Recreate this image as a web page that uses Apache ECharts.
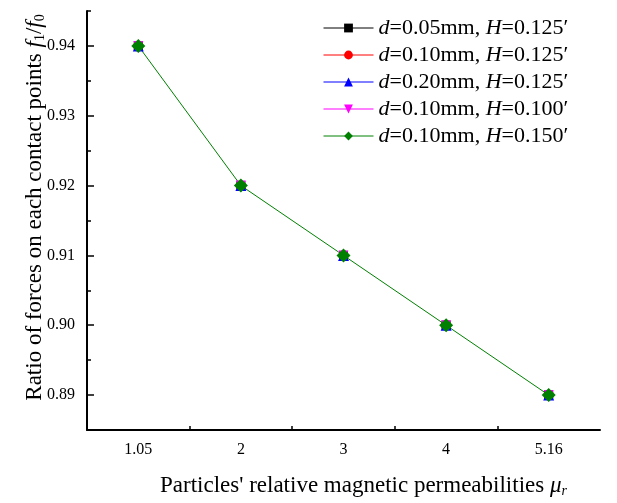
<!DOCTYPE html>
<html><head><meta charset="utf-8">
<script src="https://cdn.jsdelivr.net/npm/echarts@6/dist/echarts.min.js"></script>
<style>html,body{margin:0;padding:0;background:#fff}#c{width:617px;height:503px}</style>
</head><body><div id="c"></div>
<script>
const categories = ['1.05', '2', '3', '4', '5.16'];
const seriesNames = ['d=0.05mm, H=0.125′', 'd=0.10mm, H=0.125′', 'd=0.20mm, H=0.125′', 'd=0.10mm, H=0.100′', 'd=0.10mm, H=0.150′'];
const s1 = [0.94, 0.92, 0.91, 0.90, 0.89];
const s2 = [0.94, 0.92, 0.91, 0.90, 0.89];
const s3 = [0.94, 0.92, 0.91, 0.90, 0.89];
const s4 = [0.94, 0.92, 0.91, 0.90, 0.89];
const s5 = [0.94, 0.92, 0.91, 0.90, 0.89];
const yMajor = [0.89, 0.90, 0.91, 0.92, 0.93, 0.94];
const yMinor = [0.885, 0.895, 0.905, 0.915, 0.925, 0.935, 0.945];
const xMinor = [0.5, 1.5, 2.5, 3.5];

const F = '"Liberation Serif", "Times New Roman", serif';
const colors = ['#000000', '#ff0000', '#0000ff', '#ff00ff', '#008000'];
const symbols = ['rect', 'circle', 'triangle', 'path://M0,0 L10,0 L5,10 Z', 'diamond'];
const sizes = [9, 10, 11, 10, 14];
const datas = [s1, s2, s3, s4, s5];

const chart = echarts.init(document.getElementById('c'), null, {renderer: 'canvas'});
function mkRich(fs) {
  return {
    i: {fontFamily: F, fontStyle: 'italic', fontSize: fs, color: '#000'},
    n: {fontFamily: F, fontSize: fs, color: '#000'},
    sub: {fontFamily: F, fontStyle: 'italic', fontSize: Math.round(fs * 0.62), color: '#000', verticalAlign: 'bottom', padding: [Math.round(fs * 0.45), 0, 0, 0]},
    subn: {fontFamily: F, fontSize: Math.round(fs * 0.62), color: '#000', verticalAlign: 'bottom', padding: [Math.round(fs * 0.45), 0, 0, 0]}
  };
}
const axisW = 2;
chart.setOption({
  animation: false,
  backgroundColor: '#fff',
  grid: {left: 87, right: 17, top: 11, bottom: 70, containLabel: false},
  legend: {
    orient: 'vertical', left: 318, top: 12, itemWidth: 50, itemHeight: 11, itemGap: 5,
    data: seriesNames.map((n, k) => ({name: n, lineStyle: {color: colors[k], opacity: 1, width: 1}})),
    textStyle: {fontFamily: F, fontSize: 22, color: '#000', rich: mkRich(22)},
    formatter: function (name) {
      const m = name.match(/^d(=.*?, )H(=.*)$/);
      return '{i|d}{n|' + m[1] + '}{i|H}{n|' + m[2] + '}';
    }
  },
  xAxis: [{
    type: 'category', data: categories, boundaryGap: true,
    axisLine: {lineStyle: {color: '#000', width: axisW}},
    axisTick: {alignWithLabel: true, inside: true, length: 7, lineStyle: {color: '#000', width: 1.5}},
    axisLabel: {fontFamily: F, fontSize: 16, color: '#000', margin: 12},
    name: '{n|Particles\' relative magnetic permeabilities }{i|μ}{sub|r}',
    nameLocation: 'middle', nameGap: 44, nameMoveOverlap: false,
    nameTextStyle: {fontFamily: F, fontSize: 23, color: '#000', rich: mkRich(23), padding: [0, 0, 0, 40]}
  }, {
    type: 'value', min: -0.5, max: 4.5, position: 'bottom',
    axisLine: {show: false, onZero: false}, splitLine: {show: false},
    axisLabel: {show: false},
    axisTick: {show: true, inside: true, length: 4, customValues: xMinor, lineStyle: {color: '#000', width: 1.5}}
  }],
  yAxis: [{
    type: 'value', min: 0.885, max: 0.945,
    axisLine: {show: true, onZero: false, lineStyle: {color: '#000', width: axisW}},
    splitLine: {show: false},
    axisTick: {show: true, inside: true, length: 7, customValues: yMajor, lineStyle: {color: '#000', width: 1.5}},
    axisLabel: {fontFamily: F, fontSize: 16, color: '#000', margin: 12, customValues: yMajor,
      formatter: v => v.toFixed(2)},
    name: '{n|Ratio of forces on each contact points }{i|f}{subn|1}{n|/}{i|f}{subn|0}',
    nameLocation: 'middle', nameGap: 40, nameRotate: 90, nameMoveOverlap: false,
    nameTextStyle: {fontFamily: F, fontSize: 23, color: '#000', rich: mkRich(23), padding: [0, 0, 0, 26]}
  }, {
    type: 'value', min: 0.885, max: 0.945, position: 'left',
    axisLine: {show: false, onZero: false}, splitLine: {show: false}, axisLabel: {show: false},
    axisTick: {show: true, inside: true, length: 4, customValues: yMinor, lineStyle: {color: '#000', width: 1.5}}
  }],
  series: seriesNames.map((n, k) => ({
    name: n, type: 'line', xAxisIndex: 0, yAxisIndex: 0,
    data: datas[k], symbol: symbols[k], symbolSize: sizes[k], showAllSymbol: true,
    lineStyle: {color: colors[k], width: 1, opacity: k === 4 ? 1 : 0},
    itemStyle: {color: colors[k]}
  }))
});
</script></body></html>
